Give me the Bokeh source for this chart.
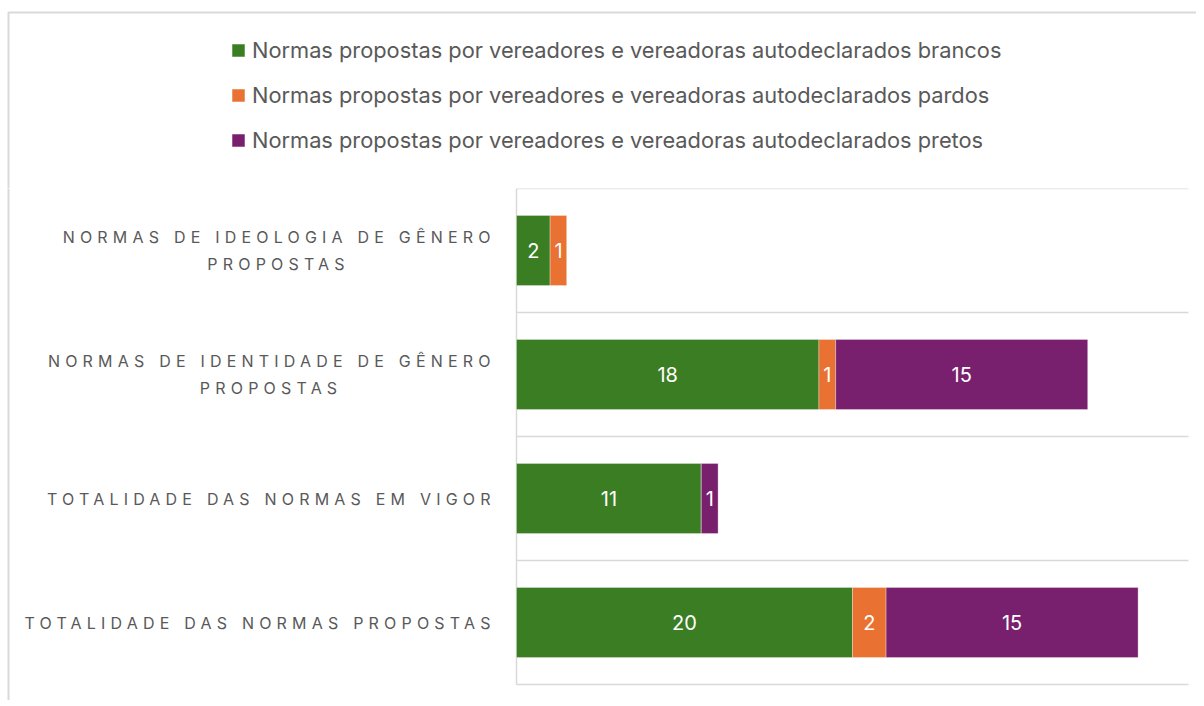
from bokeh.plotting import figure
from bokeh.layouts import column, row
from bokeh.models import ColumnDataSource, Range1d, Legend, LegendItem
from bokeh.core.properties import value
from bokeh.embed import file_html
from bokeh.resources import INLINE

# ---- data ----
categories = [
    "NORMAS DE IDEOLOGIA DE GÊNERO\nPROPOSTAS",
    "NORMAS DE IDENTIDADE DE GÊNERO\nPROPOSTAS",
    "TOTALIDADE DAS NORMAS EM VIGOR",
    "TOTALIDADE DAS NORMAS PROPOSTAS",
]
brancos = [2, 18, 11, 20]
pardos = [1, 1, 0, 2]
pretos = [0, 15, 1, 15]
series_keys = ["brancos", "pardos", "pretos"]
series_names = [
    "Normas propostas por vereadores e vereadoras autodeclarados brancos",
    "Normas propostas por vereadores e vereadoras autodeclarados pardos",
    "Normas propostas por vereadores e vereadoras autodeclarados pretos",
]
colors = ["#3B7D23", "#E97132", "#78206E"]
x_max = 40

FONT = "Inter"
TXT = "#595959"
GRID = "#D9D9D9"

# ---- layout (pixels) ----
W, H = 1196, 700
FRAME_L, FRAME_R = 516, 1188
FRAME_T, FRAME_B = 188, 684
LBL_W = 514                    # width of the category-label panel
n = len(categories)
PXU = (FRAME_R - FRAME_L) / x_max
PYU = (FRAME_B - FRAME_T) / n

LBL_FS = 16                    # category label font size
LS = 5.2                       # letter spacing of category labels
CHAR_EM = 0.611                # approx. average uppercase advance (em)
LABEL_RIGHT = 490
LINE_PX = 27


def px2x(px):
    return (px - FRAME_L) / PXU


def py2y(py):
    return (n - 0.5) + (FRAME_T - py) / PYU


def base_fig(w, h, xr, yr, **kw):
    f = figure(width=w, height=h, x_range=xr, y_range=yr,
               x_axis_location=None, y_axis_location=None,
               output_backend="svg", toolbar_location=None, min_border=0, **kw)
    f.outline_line_color = None
    f.background_fill_color = "white"
    f.border_fill_color = "white"
    f.xgrid.visible = False
    f.ygrid.visible = False
    return f


ypos = [n - 1 - i for i in range(n)]  # first category at top
src = ColumnDataSource(dict(y=ypos, brancos=brancos, pardos=pardos, pretos=pretos))

# ---------- top panel: legend ----------
top = base_fig(W, FRAME_T, Range1d(0, W), Range1d(FRAME_T, 0))
top.line(x=[8, 8, W + 20], y=[FRAME_T + 20, 12, 12], line_color=GRID, line_width=2)
# hidden copies of the series, used only as legend glyph sources
leg_rs = top.hbar_stack(series_keys, y="y", height=0.565, color=colors, source=src,
                        line_color="white", line_alpha=0.3, line_width=1)
for r in leg_rs:
    r.visible = False
items = [LegendItem(label=series_names[k], renderers=[leg_rs[k]]) for k in range(3)]
leg_h = 3 * 26 + 2 * 19
legend = Legend(items=items, location=(230, FRAME_T - 37 - leg_h), orientation="vertical",
                glyph_width=16, glyph_height=16, label_standoff=6,
                label_text_font=FONT, label_text_font_size="21.8px", label_text_color=TXT,
                label_height=26, spacing=19, padding=0, margin=0,
                inactive_fill_alpha=0,
                border_line_color=None, background_fill_alpha=0)
top.add_layout(legend, "center")

# ---------- left panel: category labels (letter-spaced) ----------
lbl = base_fig(LBL_W, H - FRAME_T, Range1d(0, LBL_W), Range1d(py2y(H), py2y(FRAME_T)),
               styles={"letter-spacing": f"{LS}px"})
lbl.line(x=[8, 8], y=[py2y(FRAME_T - 20), py2y(H + 20)], line_color=GRID, line_width=2)

tx, ty, tt, ta = [], [], [], []
for i, cat in enumerate(categories):
    lines = cat.split("\n")
    nl = len(lines)
    first = lines[0]
    est_w = len(first) * CHAR_EM * LBL_FS + (len(first) - 1) * LS
    center = LABEL_RIGHT - est_w / 2
    for j, ln in enumerate(lines):
        off = (j - (nl - 1) / 2) * LINE_PX
        ty.append(ypos[i] - off / PYU)
        tt.append(ln)
        if j == 0:
            tx.append(LABEL_RIGHT - (len(ln) - 1) * LS)
            ta.append("center_right")
        else:
            tx.append(center - (len(ln) - 1) * LS / 2)
            ta.append("center")
lbl_src = ColumnDataSource(dict(x=tx, y=ty, text=tt, anchor=ta))
lbl.text(x="x", y="y", text="text", anchor="anchor", source=lbl_src,
         text_color=TXT, text_font=value(FONT), text_font_size=f"{LBL_FS}px")

# ---------- right panel: bars ----------
bars = base_fig(W - LBL_W, H - FRAME_T, Range1d(px2x(LBL_W), px2x(W)),
                Range1d(py2y(H), py2y(FRAME_T)))
bounds = [k - 0.5 for k in range(n + 1)]
bars.segment(x0=[0] * len(bounds), x1=[x_max] * len(bounds), y0=bounds, y1=bounds,
             line_color=GRID, line_width=1.5)
bars.segment(x0=[0], x1=[0], y0=[bounds[0]], y1=[bounds[-1]], line_color=GRID, line_width=1.5)

bars.hbar_stack(series_keys, y="y", height=0.565, color=colors, source=src,
                line_color="white", line_alpha=0.3, line_width=1)

all_vals = [brancos, pardos, pretos]
lx, ly, lt = [], [], []
for i in range(n):
    left = 0
    for vals in all_vals:
        v = vals[i]
        if v:
            lx.append(left + v / 2)
            ly.append(ypos[i])
            lt.append(str(v))
        left += v
bars.text(x=lx, y=ly, text=lt, text_align="center", text_baseline="middle",
          text_color="white", text_font=value(FONT), text_font_size="20px")

layout = column(top, row(lbl, bars, spacing=0), spacing=0)
open("out.html", "w").write(file_html(layout, INLINE))
